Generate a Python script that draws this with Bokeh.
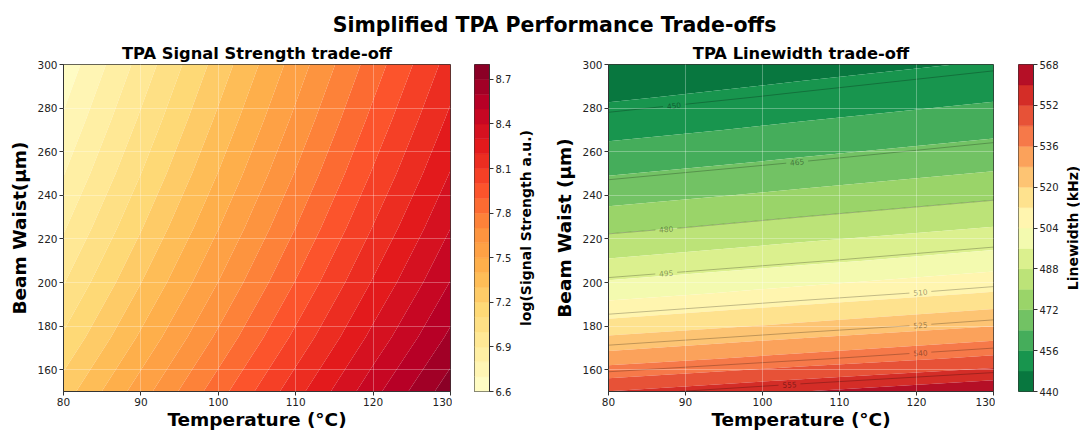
import math
import numpy as np
from bokeh.plotting import figure
from bokeh.layouts import column, row
from bokeh.models import Range1d, FixedTicker, ColumnDataSource
from bokeh.plotting.contour import contour_data
from bokeh.core.properties import value
from bokeh.embed import file_html
from bokeh.resources import INLINE

FONT = "DejaVu Sans"

# ---------------- texts ----------------
suptitle = "Simplified TPA Performance Trade-offs"
sig_title = "TPA Signal Strength trade-off"
lw_title = "TPA Linewidth trade-off"
x_label = "Temperature (°C)"
sig_ylabel = "Beam Waist(µm)"
lw_ylabel = "Beam Waist (µm)"
sig_cbar_label = "log(Signal Strength a.u.)"
lw_cbar_label = "Linewidth (kHz)"

# ---------------- axes ticks ----------------
temp_ticks = [80, 90, 100, 110, 120, 130]
waist_ticks = [160, 180, 200, 220, 240, 260, 280, 300]

# ---------------- signal strength field ----------------
sig_temp = [80, 90, 100, 110, 120, 130]
sig_waist = [150, 175, 200, 225, 250, 275, 300]
sig_values = [
    [7.250, 7.554, 7.858, 8.162, 8.466, 8.760],
    [7.113, 7.417, 7.721, 8.025, 8.329, 8.623],
    [6.994, 7.298, 7.602, 7.906, 8.210, 8.504],
    [6.889, 7.193, 7.497, 7.801, 8.105, 8.399],
    [6.795, 7.099, 7.403, 7.707, 8.011, 8.305],
    [6.711, 7.015, 7.319, 7.623, 7.927, 8.221],
    [6.633, 6.937, 7.241, 7.545, 7.849, 8.143],
]
sig_levels = [6.6, 6.7, 6.8, 6.9, 7.0, 7.1, 7.2, 7.3, 7.4, 7.5, 7.6, 7.7,
              7.8, 7.9, 8.0, 8.1, 8.2, 8.3, 8.4, 8.5, 8.6, 8.7, 8.8]
sig_ticks = [6.6, 6.9, 7.2, 7.5, 7.8, 8.1, 8.4, 8.7]

# ---------------- linewidth field ----------------
lw_temp = [80, 105, 130]
lw_waist = [150, 165, 180, 195, 210, 225, 240, 255, 270, 285, 300]
lw_values = [
    [552.2, 559.9, 567.5],
    [532.0, 539.0, 545.9],
    [515.2, 521.6, 527.9],
    [500.9, 506.8, 512.7],
    [488.7, 494.2, 499.7],
    [478.1, 483.2, 488.4],
    [468.9, 473.7, 478.5],
    [460.7, 465.2, 469.7],
    [453.5, 457.7, 462.0],
    [447.0, 451.0, 455.0],
    [441.1, 444.9, 448.8],
]
lw_levels = [440, 448, 456, 464, 472, 480, 488, 496, 504, 512, 520, 528,
             536, 544, 552, 560, 568]
lw_ticks = [440, 456, 472, 488, 504, 520, 536, 552, 568]
lw_line_levels = [450, 465, 480, 495, 510, 525, 540, 555]
lw_label_temp = [88.5, 104.5, 87.5, 87.5, 120.5, 120.5, 120.5, 103.5]

# ---------------- colour maps ----------------
YLORRD = ["#ffffcc", "#ffeda0", "#fed976", "#feb24c", "#fd8d3c",
          "#fc4e2a", "#e31a1c", "#bd0026", "#800026"]
RDYLGN = ["#a50026", "#d73027", "#f46d43", "#fdae61", "#fee08b", "#ffffbf",
          "#d9ef8b", "#a6d96a", "#66bd63", "#1a9850", "#006837"]


def sample_cmap(anchors, n):
    rgb = np.array([[int(h[i:i + 2], 16) for i in (1, 3, 5)] for h in anchors], float)
    pos = np.linspace(0, 1, len(anchors))
    out = []
    for f in (np.arange(n) + 0.5) / n:
        c = [np.interp(f, pos, rgb[:, k]) for k in range(3)]
        out.append("#%02x%02x%02x" % tuple(int(round(v)) for v in c))
    return out


sig_palette = sample_cmap(YLORRD, len(sig_levels) - 1)
lw_palette = sample_cmap(RDYLGN[::-1], len(lw_levels) - 1)

# ---------------- layout constants ----------------
SUP_H = 39
FW, FH = 387, 328
TOP, BOTTOM = 25, 40
H = TOP + FH + BOTTOM


def style_axis(ax, label_size="18.5px"):
    ax.axis_label_text_font = FONT
    ax.axis_label_text_font_size = label_size
    ax.axis_label_text_font_style = "bold"
    ax.axis_label_text_color = "black"
    ax.major_label_text_font = FONT
    ax.major_label_text_font_size = "10.5px"
    ax.major_label_text_color = "#222222"
    ax.major_tick_out = 4
    ax.major_tick_in = 0
    ax.minor_tick_out = 0
    ax.minor_tick_in = 0
    ax.axis_line_color = "#333333"
    ax.major_tick_line_color = "#333333"
    ax.major_label_standoff = 2
    ax.axis_label_standoff = 0


def make_plot(title, ylabel, left):
    p = figure(width=left + FW + 2, height=H,
               x_range=Range1d(80, 130), y_range=Range1d(150, 300),
               output_backend="svg", toolbar_location=None, title=title,
               min_border_left=left, min_border_right=2,
               min_border_top=TOP, min_border_bottom=BOTTOM)
    p.title.text_font = FONT
    p.title.text_font_size = "16.3px"
    p.title.text_font_style = "bold"
    p.title.text_color = "black"
    p.title.align = "center"
    p.title.standoff = 3
    p.xaxis.axis_label = x_label
    p.yaxis.axis_label = ylabel
    p.xaxis.ticker = FixedTicker(ticks=temp_ticks)
    p.yaxis.ticker = FixedTicker(ticks=waist_ticks)
    style_axis(p.xaxis[0])
    style_axis(p.yaxis[0])
    p.yaxis[0].axis_label_standoff = 4
    p.grid.grid_line_color = "white"
    p.grid.grid_line_alpha = 0.3
    p.grid.grid_line_width = 1
    p.grid.level = "overlay"
    p.outline_line_color = "#333333"
    p.outline_line_alpha = 1
    p.background_fill_color = "white"
    return p


def seal_fill(r):
    g = r.fill_renderer.glyph
    try:
        g.line_color = g.fill_color
        g.line_width = 0.8
    except Exception:
        pass


def make_cbar(levels, palette, ticks, left, fw, width):
    cb = figure(width=width, height=H,
                x_range=Range1d(0, 1), y_range=Range1d(levels[0], levels[-1]),
                y_axis_location="right", output_backend="svg", toolbar_location=None,
                min_border_left=left, min_border_right=width - left - fw,
                min_border_top=TOP, min_border_bottom=BOTTOM)
    src = ColumnDataSource(dict(b=levels[:-1], t=levels[1:], c=palette))
    cb.quad(left=0, right=1, bottom="b", top="t", fill_color="c", line_color="c",
            line_width=0.5, source=src)
    cb.xaxis.visible = False
    cb.grid.visible = False
    ax = cb.yaxis[0]
    ax.ticker = FixedTicker(ticks=ticks)
    style_axis(ax)
    ax.major_label_text_font_size = "10px"
    cb.outline_line_color = "#333333"
    return cb


def make_cbar_label(label, width, center_from_right):
    """Narrow strip whose left-axis label is the colour-bar title (reads bottom-to-top)."""
    lf = figure(width=width, height=H, x_range=Range1d(0, 1), y_range=Range1d(0, 1),
                output_backend="svg", toolbar_location=None,
                min_border_left=width - 1, min_border_right=0,
                min_border_top=TOP, min_border_bottom=BOTTOM)
    lf.xaxis.visible = False
    lf.grid.visible = False
    lf.outline_line_color = None
    lf.background_fill_color = None
    lf.border_fill_color = None
    ax = lf.yaxis[0]
    ax.ticker = FixedTicker(ticks=[])
    ax.axis_line_color = None
    ax.major_tick_line_color = None
    ax.minor_tick_line_color = None
    ax.major_tick_out = 0
    ax.major_tick_in = 0
    ax.minor_tick_out = 0
    ax.minor_tick_in = 0
    ax.major_label_standoff = 0
    ax.axis_label = label
    ax.axis_label_text_font = FONT
    ax.axis_label_text_font_size = "14px"
    ax.axis_label_text_font_style = "bold"
    ax.axis_label_text_color = "black"
    ax.axis_label_standoff = max(0, int(round(center_from_right - 8.5)))
    return lf


# ---------------- signal plot ----------------
p1 = make_plot(sig_title, sig_ylabel, 63)
r1 = p1.contour(x=sig_temp, y=sig_waist, z=np.array(sig_values), levels=sig_levels,
                fill_color=sig_palette, line_color=None)
seal_fill(r1)
cb1 = make_cbar(sig_levels, sig_palette, sig_ticks, 22, 16, 62)
lab1 = make_cbar_label(sig_cbar_label, 37, 27)

# ---------------- linewidth plot ----------------
p2 = make_plot(lw_title, lw_ylabel, 55)
lw_z = np.array(lw_values)
r2 = p2.contour(x=lw_temp, y=lw_waist, z=lw_z, levels=lw_levels,
                fill_color=lw_palette, line_color=None)
seal_fill(r2)

cd = contour_data(x=lw_temp, y=lw_waist, z=lw_z, levels=lw_line_levels,
                  want_fill=False, want_line=True)
px_T = FW / 50.0
px_W = FH / 150.0
gap = 11.0 / px_T
seg_xs, seg_ys = [], []
lab_x, lab_y, lab_t, lab_a = [], [], [], []
for lev, lx, xs, ys in zip(lw_line_levels, lw_label_temp, cd.line_data.xs, cd.line_data.ys):
    xs = np.asarray(xs, float)
    ys = np.asarray(ys, float)
    m = np.isfinite(xs) & np.isfinite(ys)
    xs, ys = xs[m], ys[m]
    o = np.argsort(xs)
    xs, ys = xs[o], ys[o]
    y0 = float(np.interp(lx - gap, xs, ys))
    y1 = float(np.interp(lx + gap, xs, ys))
    yc = float(np.interp(lx, xs, ys))
    lm = xs < lx - gap
    rm = xs > lx + gap
    seg_xs.append(list(xs[lm]) + [lx - gap])
    seg_ys.append(list(ys[lm]) + [y0])
    seg_xs.append([lx + gap] + list(xs[rm]))
    seg_ys.append([y1] + list(ys[rm]))
    ang = math.atan2((y1 - y0) * px_W, (2 * gap) * px_T)
    lab_x.append(lx)
    lab_y.append(yc)
    lab_t.append(str(lev))
    lab_a.append(ang)

p2.multi_line(xs=seg_xs, ys=seg_ys, line_color="black", line_alpha=0.35, line_width=0.7)
p2.text(x=lab_x, y=lab_y, text=lab_t, angle=lab_a, text_align="center",
        text_baseline="middle", text_font=value(FONT), text_font_size="7.5px",
        text_color="black", text_alpha=0.4)
cb2 = make_cbar(lw_levels, lw_palette, lw_ticks, 23, 17, 66)
lab2 = make_cbar_label(lw_cbar_label, 19, 9)

# ---------------- suptitle ----------------
sup = figure(width=1080, height=SUP_H, x_range=Range1d(0, 1), y_range=Range1d(0, 1),
             output_backend="svg", toolbar_location=None,
             min_border_left=28, min_border_right=0, min_border_top=0, min_border_bottom=0)
sup.axis.visible = False
sup.grid.visible = False
sup.outline_line_color = None
sup.text(x=[0.5], y=[0.36], text=[suptitle], text_align="center", text_baseline="middle",
         text_font=value(FONT), text_font_size="20.5px", text_font_style="bold",
         text_color="black")

layout = column(sup, row(p1, cb1, lab1, p2, cb2, lab2, spacing=0), spacing=0)
open("out.html", "w").write(file_html(layout, INLINE))
